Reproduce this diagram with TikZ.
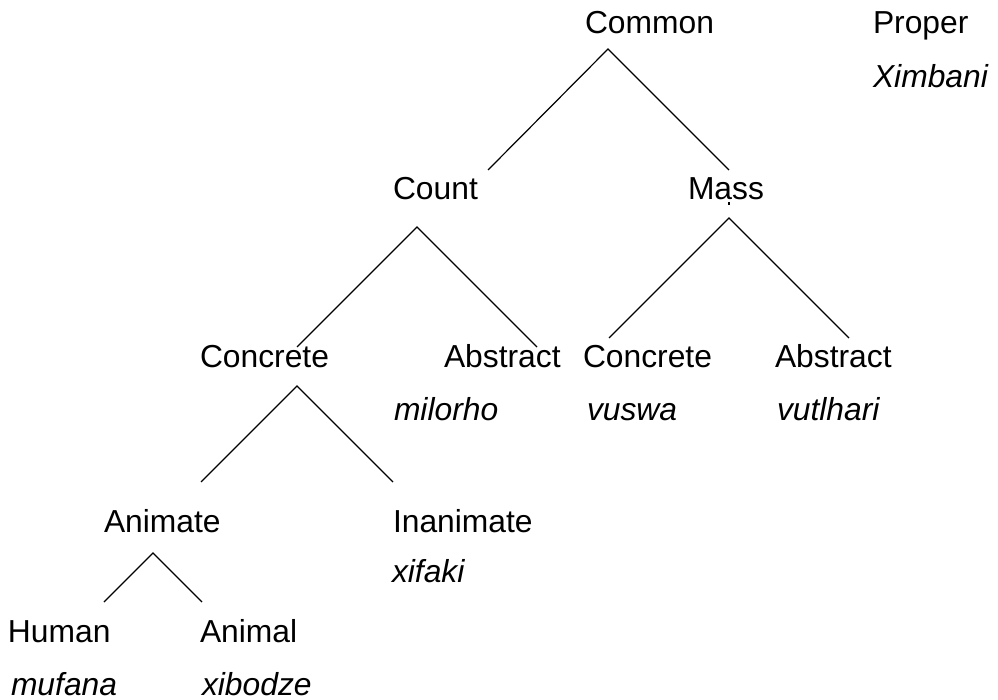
\documentclass[tikz,border=0pt]{standalone}
\usepackage{fontspec}
\setmainfont{Liberation Sans}
\begin{document}
\begin{tikzpicture}[x=1pt,y=-1pt,
  lbl/.style={anchor=base west,inner sep=0pt,outer sep=0pt,font=\fontsize{31.8}{38}\selectfont},
  ex/.style={lbl,font=\fontsize{31.8}{38}\selectfont\itshape},
  branch/.style={draw=black,line width=1.2pt}]
\useasboundingbox (0,0) rectangle (998,700);

% category labels
\node[lbl] (common)  at (585,34)  {Common};
\node[lbl] (proper)  at (873,34)  {Proper};
\node[ex]  (ximbani) at (873,88)  {Ximbani};

\node[lbl] (count) at (393,200) {Count};
\node[lbl] (mass)  at (688,200) {Mass};

\node[lbl] (concreteC) at (200,367) {Concrete};
\node[lbl] (abstractC) at (444,367) {Abstract};
\node[ex]  (milorho)   at (394,420) {milorho};
\node[lbl] (concreteM) at (583,367) {Concrete};
\node[lbl] (abstractM) at (775,367) {Abstract};
\node[ex]  (vuswa)     at (587,420) {vuswa};
\node[ex]  (vutlhari)  at (777,420) {vutlhari};

\node[lbl] (animate)   at (104,532) {Animate};
\node[lbl] (inanimate) at (393,532) {Inanimate};
\node[ex]  (xifaki)    at (392,582) {xifaki};

\node[lbl] (human)   at (8,642)   {Human};
\node[lbl] (animal)  at (200,642) {Animal};
\node[ex]  (mufana)  at (11,695)  {mufana};
\node[ex]  (xibodze) at (202,695) {xibodze};

% branch points
\coordinate (commonTop) at (608,49);
\coordinate (countEnd)  at (488,170);
\coordinate (massEnd)   at (729,170);

\coordinate (countTop)  at (417,227);
\coordinate (concCEnd)  at (297,347);
\coordinate (absCEnd)   at (537,347);

\coordinate (massTop)   at (729,218);
\coordinate (concMEnd)  at (609,338);
\coordinate (absMEnd)   at (849,338);
\coordinate (massTickA) at (729,202);
\coordinate (massTickB) at (729,205.5);

\coordinate (concTop)   at (297,386);
\coordinate (animEnd)   at (201,482);
\coordinate (inanEnd)   at (393,482);

\coordinate (animTop)   at (153,553);
\coordinate (humanEnd)  at (104,602);
\coordinate (animalEnd) at (202,602);

% branches
\draw[branch] (countEnd) -- (commonTop) -- (massEnd);
\draw[branch] (concCEnd) -- (countTop) -- (absCEnd);
\draw[branch] (concMEnd) -- (massTop) -- (absMEnd);
\draw[branch] (massTickA) -- (massTickB);
\draw[branch] (animEnd) -- (concTop) -- (inanEnd);
\draw[branch] (humanEnd) -- (animTop) -- (animalEnd);
\end{tikzpicture}
\end{document}
